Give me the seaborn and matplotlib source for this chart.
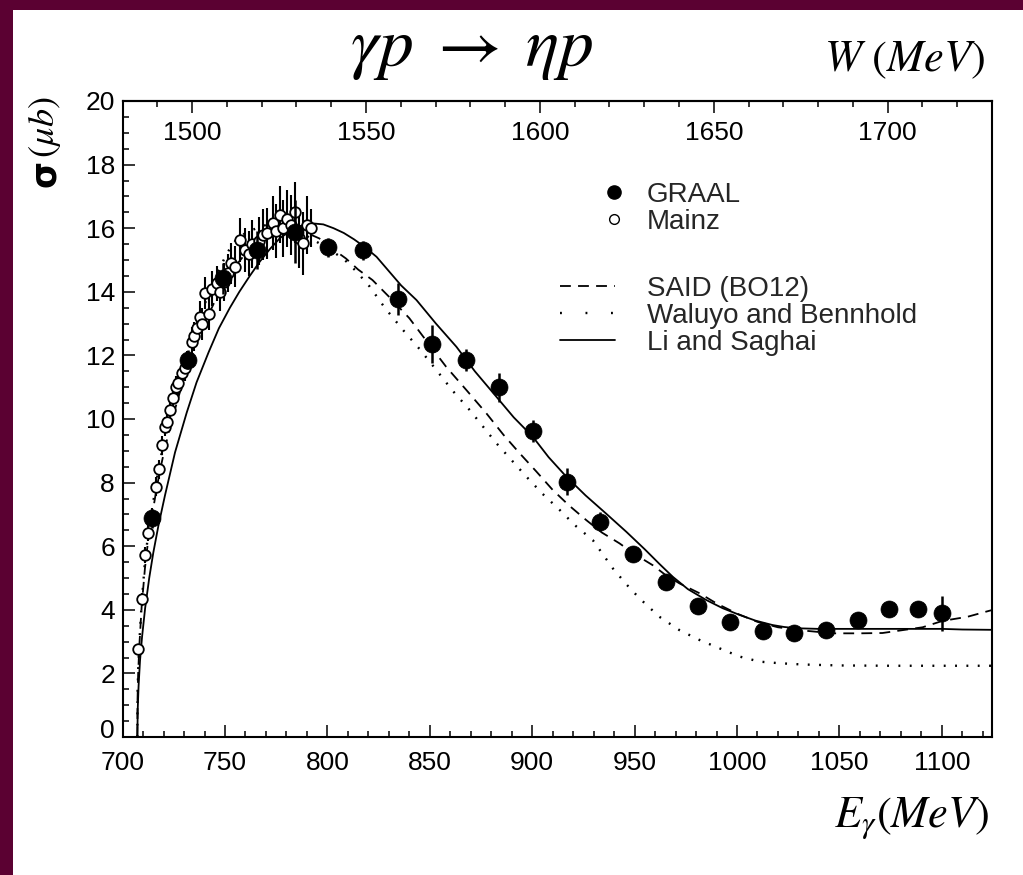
import matplotlib
matplotlib.use("Agg")
import matplotlib.pyplot as plt
from matplotlib.lines import Line2D
from matplotlib.patches import Rectangle
from matplotlib.ticker import MultipleLocator
from matplotlib.transforms import ScaledTranslation
import seaborn as sns

# ---- data: gamma p -> eta p total cross section ----
graal_e = [714.5, 732.0, 749.1, 765.4, 784.1, 800.3, 817.4, 834.7, 851.3, 867.9,
           883.8, 900.3, 916.9, 933.2, 949.1, 965.1, 980.8, 996.6, 1012.5, 1028.0,
           1043.5, 1058.9, 1074.3, 1088.6, 1100.0]
graal_sigma = [6.88, 11.86, 14.42, 15.31, 15.89, 15.40, 15.31, 13.78, 12.36, 11.86,
               11.00, 9.62, 8.03, 6.77, 5.75, 4.88, 4.12, 3.63, 3.34, 3.28,
               3.36, 3.68, 4.03, 4.03, 3.89]
graal_err = [0.30, 0.30, 0.50, 0.60, 1.00, 0.30, 0.30, 0.50, 0.60, 0.35,
             0.45, 0.35, 0.42, 0.30, 0.25, 0.25, 0.25, 0.25, 0.25, 0.25,
             0.25, 0.25, 0.25, 0.25, 0.55]

mainz_e = [707.7, 709.3, 710.9, 712.5, 714.2, 716.3, 717.8, 719.1, 720.6, 721.5,
           723.1, 724.7, 726.0, 727.2, 728.8, 730.3, 731.3, 733.7, 735.0, 736.1,
           737.8, 739.0, 740.2, 742.0, 743.5, 745.9, 747.5, 749.5, 751.5, 753.0,
           754.8, 757.3, 759.7, 761.5, 763.0, 766.5, 768.5, 770.3, 773.5, 775.0,
           776.8, 778.5, 780.5, 782.0, 784.0, 786.0, 788.1, 790.0, 792.2]
mainz_sigma = [2.76, 4.33, 5.72, 6.42, 6.95, 7.87, 8.42, 9.18, 9.75, 9.92,
               10.28, 10.65, 11.00, 11.12, 11.44, 11.60, 11.75, 12.43, 12.60, 12.85,
               13.22, 13.00, 13.95, 13.30, 14.10, 14.27, 14.00, 14.30, 14.60, 14.90,
               14.79, 15.63, 15.31, 15.20, 15.50, 15.60, 15.80, 15.84, 16.15, 15.90,
               16.42, 16.00, 16.30, 16.10, 16.50, 15.70, 15.52, 16.10, 16.00]
mainz_err = [0.15, 0.20, 0.25, 0.25, 0.25, 0.30, 0.30, 0.30, 0.30, 0.30,
             0.35, 0.35, 0.35, 0.35, 0.40, 0.40, 0.40, 0.45, 0.45, 0.45,
             0.50, 0.50, 0.50, 0.50, 0.55, 0.55, 0.60, 0.60, 0.60, 0.65,
             0.65, 0.70, 0.70, 0.70, 0.75, 0.75, 0.80, 0.80, 0.85, 0.85,
             0.90, 0.90, 0.90, 0.95, 0.95, 0.95, 1.00, 0.90, 0.60]

said_e = [707.2, 707.3, 707.6, 708.2, 709.3, 710.9, 712.5, 714.5, 716.3, 718.0,
          720.0, 723.0, 726.0, 730.0, 735.0, 740.0, 745.0, 750.0, 755.0, 760.0,
          765.0, 770.0, 775.0, 780.0, 785.0, 790.0, 796.0, 801.0, 809.0, 815.0,
          822.0, 830.0, 840.0, 849.0, 858.0, 868.0, 877.6, 886.0, 893.9, 902.0,
          910.0, 918.0, 926.4, 934.0, 942.6, 950.0, 958.9, 965.0, 971.9, 981.7,
          990.0, 1000.0, 1010.0, 1020.0, 1033.7, 1047.0, 1060.0, 1071.0, 1080.8, 1090.6,
          1100.3, 1112.5, 1121.5, 1125.0]
said_sigma = [0.0, 1.2, 2.0, 2.9, 4.1, 5.3, 6.2, 7.0, 7.7, 8.3,
              8.9, 9.7, 10.4, 11.3, 12.2, 13.0, 13.7, 14.3, 14.8, 15.2,
              15.55, 15.8, 15.95, 16.0, 15.95, 15.85, 15.68, 15.42, 15.05, 14.7,
              14.37, 13.85, 13.17, 12.4, 11.64, 10.9, 10.18, 9.5, 8.92, 8.35,
              7.77, 7.28, 6.82, 6.43, 6.09, 5.75, 5.40, 5.10, 4.83, 4.52,
              4.20, 3.88, 3.62, 3.45, 3.34, 3.26, 3.26, 3.27, 3.36, 3.45,
              3.65, 3.78, 3.94, 4.0]

waluyo_e = [707.2, 707.3, 707.6, 708.2, 709.3, 710.9, 712.5, 714.5, 716.3, 718.0,
            720.0, 723.0, 726.0, 730.0, 735.0, 740.0, 745.0, 750.8, 755.0, 760.0,
            765.4, 770.0, 775.0, 780.0, 785.0, 790.0, 798.0, 807.7, 814.0, 820.7,
            828.0, 836.9, 845.0, 853.2, 861.0, 869.5, 876.0, 882.5, 890.0, 897.1,
            905.0, 913.4, 921.0, 929.6, 939.4, 946.0, 952.4, 962.1, 971.9, 981.7,
            991.4, 1001.2, 1011.0, 1020.7, 1032.0, 1050.0, 1075.0, 1100.0, 1125.0]
waluyo_sigma = [0.0, 1.3, 2.1, 3.0, 4.2, 5.5, 6.4, 7.2, 7.95, 8.6,
                9.2, 10.05, 10.8, 11.7, 12.7, 13.6, 14.4, 15.2, 15.6, 15.85,
                16.0, 16.1, 16.1, 16.0, 15.9, 15.75, 15.45, 15.05, 14.65, 14.16,
                13.5, 12.8, 12.2, 11.54, 10.9, 10.28, 9.76, 9.24, 8.7, 8.19,
                7.65, 7.14, 6.65, 6.19, 5.3, 4.8, 4.36, 3.78, 3.36, 3.05,
                2.79, 2.53, 2.37, 2.32, 2.28, 2.25, 2.24, 2.24, 2.24]

li_e = [707.2, 707.4, 707.8, 708.5, 709.5, 711.0, 713.0, 715.0, 717.5, 720.7,
        725.6, 731.3, 736.1, 742.0, 747.0, 752.4, 757.0, 762.1, 767.0, 772.0,
        777.0, 783.0, 788.0, 793.0, 798.0, 803.0, 808.0, 813.0, 818.0, 824.0,
        830.0, 836.0, 843.5, 853.0, 863.0, 872.0, 882.5, 891.0, 900.3, 908.0,
        916.6, 926.0, 936.0, 946.0, 955.0, 962.0, 968.6, 976.0, 984.9, 993.0,
        1001.2, 1009.0, 1017.4, 1023.0, 1028.8, 1040.0, 1060.0, 1080.0, 1100.0, 1110.0,
        1125.0]
li_sigma = [0.0, 0.9, 1.6, 2.4, 3.15, 4.05, 5.0, 5.8, 6.65, 7.6,
            8.95, 10.2, 11.15, 12.1, 12.85, 13.5, 14.0, 14.5, 14.95, 15.35,
            15.7, 15.95, 16.1, 16.15, 16.12, 16.0, 15.85, 15.65, 15.42, 15.1,
            14.65, 14.2, 13.74, 13.0, 12.27, 11.5, 10.7, 10.05, 9.44, 8.8,
            8.19, 7.6, 7.03, 6.45, 5.9, 5.45, 5.04, 4.65, 4.31, 4.05,
            3.84, 3.66, 3.52, 3.46, 3.42, 3.40, 3.40, 3.40, 3.40, 3.38,
            3.37]

e_ticks = [700, 750, 800, 850, 900, 950, 1000, 1050, 1100]
w_ticks = [1500, 1550, 1600, 1650, 1700]
sigma_ticks = [0, 2, 4, 6, 8, 10, 12, 14, 16, 18, 20]
e_range = (700.0, 1124.5)
w_range = (1480.0, 1730.0)

# ---- style ----
sns.set_theme(style="ticks")
plt.rcParams["font.family"] = ["Liberation Sans", "DejaVu Sans"]
plt.rcParams["mathtext.fontset"] = "stix"
plt.rcParams["axes.linewidth"] = 1.5
plt.rcParams["axes.edgecolor"] = "black"

W_PX, H_PX = 1023, 875
fig = plt.figure(figsize=(W_PX / 100, H_PX / 100), dpi=100)
fig.patch.set_facecolor("#5b0132")
fig.add_artist(Rectangle((13 / W_PX, 0), 1 - 13 / W_PX, 1 - 10 / H_PX,
                         transform=fig.transFigure, facecolor="white",
                         edgecolor="none", zorder=-1))

ax = fig.add_axes([122.6 / W_PX, 1 - 737 / H_PX, (992 - 122.6) / W_PX, (737 - 101) / H_PX])
ax.set_facecolor("white")

# model curves
sns.lineplot(x=said_e, y=said_sigma, ax=ax, color="black", lw=1.3,
             linestyle=(0, (6, 4)), estimator=None, sort=False)
sns.lineplot(x=waluyo_e, y=waluyo_sigma, ax=ax, color="black", lw=1.7,
             linestyle=(0, (0.8, 4.0)), estimator=None, sort=False)
sns.lineplot(x=li_e, y=li_sigma, ax=ax, color="black", lw=1.3,
             linestyle="-", estimator=None, sort=False)

# Mainz points
ax.errorbar(mainz_e, mainz_sigma, yerr=mainz_err, fmt="none", ecolor="black",
            elinewidth=1.5, capsize=0, zorder=3)
sns.scatterplot(x=mainz_e, y=mainz_sigma, ax=ax, marker="o", s=58,
                facecolor="white", edgecolor="black", linewidth=1.3, zorder=4)

# GRAAL points
ax.errorbar(graal_e, graal_sigma, yerr=graal_err, fmt="none", ecolor="black",
            elinewidth=1.8, capsize=0, zorder=5)
sns.scatterplot(x=graal_e, y=graal_sigma, ax=ax, marker="o", s=150,
                color="black", edgecolor="black", linewidth=0.5, zorder=6)

# axes
ax.set_xlim(*e_range)
ax.set_ylim(sigma_ticks[0], sigma_ticks[-1])
ax.set_xticks(e_ticks)
ax.set_yticks(sigma_ticks)
ax.xaxis.set_minor_locator(MultipleLocator(10))
ax.yaxis.set_minor_locator(MultipleLocator(0.5))
ax.set_xlabel("")
ax.set_ylabel("")
for s in ax.spines.values():
    s.set_visible(True)
    s.set_linewidth(1.5)
    s.set_color("black")
ax.tick_params(which="both", direction="in", top=False, right=False,
               bottom=True, left=True, colors="black", labelsize=19, width=1.1)
ax.tick_params(which="major", length=8.6)
ax.tick_params(which="minor", length=4.3)
ax.tick_params(axis="x", which="major", pad=10)
ax.tick_params(axis="y", which="major", pad=5.5)

# lift the "0" label of the sigma axis clear of the energy labels
zero_label = ax.yaxis.get_major_ticks()[0].label1
zero_label.set_transform(zero_label.get_transform()
                         + ScaledTranslation(0, 6 / 72, fig.dpi_scale_trans))


def e_to_w(e):
    return w_range[0] + (e - e_range[0]) * (w_range[1] - w_range[0]) / (e_range[1] - e_range[0])


def w_to_e(w):
    return e_range[0] + (w - w_range[0]) * (e_range[1] - e_range[0]) / (w_range[1] - w_range[0])


top = ax.secondary_xaxis("top", functions=(e_to_w, w_to_e))
top.set_xticks(w_ticks)
top.xaxis.set_minor_locator(MultipleLocator(10))
top.spines["top"].set_linewidth(1.5)
top.tick_params(which="both", direction="in", colors="black", labelsize=19, width=1.1)
top.tick_params(which="major", length=8.6, pad=-32)
top.tick_params(which="minor", length=4.3)

# legend
lab_fs = 20
marker_handles = [
    Line2D([], [], ls="none", marker="o", ms=9.5, mfc="black", mec="black"),
    Line2D([], [], ls="none", marker="o", ms=7.0, mfc="white", mec="black", mew=1.0),
]
leg1 = ax.legend(marker_handles, ["GRAAL", "Mainz"], loc="upper left",
                 bbox_to_anchor=(601 / W_PX, 1 - 181.5 / H_PX), bbox_transform=fig.transFigure,
                 frameon=False, fontsize=lab_fs, handlelength=0.94, handletextpad=0.72,
                 labelspacing=0.04, borderpad=0, borderaxespad=0)
ax.add_artist(leg1)
line_handles = [
    Line2D([], [], color="black", lw=1.3, ls=(0, (6, 4))),
    Line2D([], [], color="black", lw=1.7, ls=(0, (0.8, 10))),
    Line2D([], [], color="black", lw=1.3, ls="-"),
]
ax.legend(line_handles, ["SAID (BO12)", "Waluyo and Bennhold", "Li and Saghai"],
          loc="upper left", bbox_to_anchor=(560 / W_PX, 1 - 275.5 / H_PX),
          bbox_transform=fig.transFigure, frameon=False, fontsize=lab_fs,
          handlelength=1.98, handletextpad=1.15, labelspacing=0.04,
          borderpad=0, borderaxespad=0)

# titles and axis labels
fig.text(472 / W_PX, 1 - 66 / H_PX, r"$\gamma p\;\rightarrow\;\eta p$",
         fontsize=50, ha="center", va="baseline", color="black")
fig.text(985 / W_PX, 1 - 71 / H_PX, r"$W\ (MeV)$",
         fontsize=32, ha="right", va="baseline", color="black")
fig.text(990 / W_PX, 1 - 827 / H_PX, r"$E_{\gamma}(MeV)$",
         fontsize=32, ha="right", va="baseline", color="black")
fig.text(45 / W_PX, 1 - 173 / H_PX, "σ", family=["DejaVu Sans"], fontweight="bold",
         fontsize=25, rotation=90, ha="center", va="center", color="black")
fig.text(45 / W_PX, 1 - 127 / H_PX, r"$(\mu b)$",
         fontsize=26, rotation=90, ha="center", va="center", color="black")

fig.savefig("out.png", dpi=100, facecolor=fig.get_facecolor())
